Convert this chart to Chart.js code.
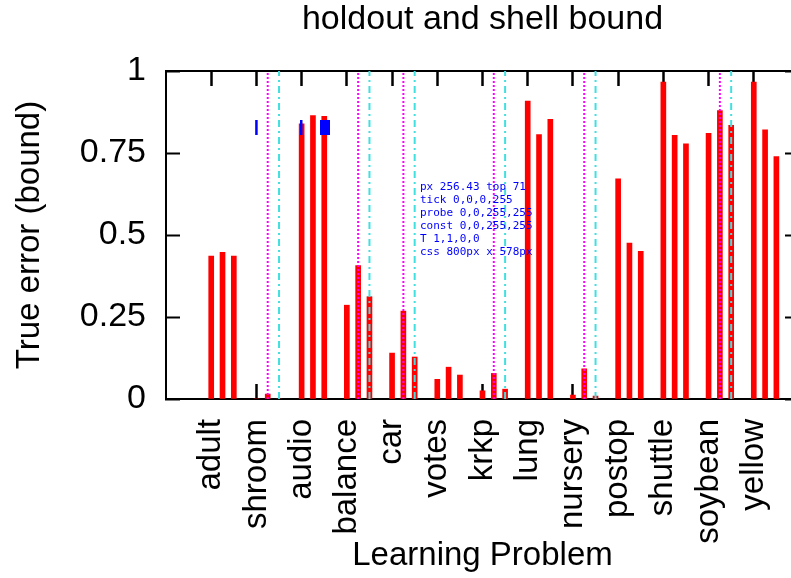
<!DOCTYPE html>
<html>
<head>
<meta charset="utf-8">
<title>holdout and shell bound</title>
<script src="https://cdn.jsdelivr.net/npm/chart.js@4.4.1/dist/chart.umd.min.js"></script>
<style>
  html, body { margin: 0; padding: 0; background: #fff; overflow: hidden; }
  #chart { display: block; }
  #dbg { position: absolute; left: 420px; top: 180px; font: 11px monospace; color: blue; white-space: pre; }
</style>
</head>
<body>
<canvas id="chart" width="800" height="578"></canvas>
<div id="dbg"></div>
<script>
const categories = ['adult', 'shroom', 'audio', 'balance', 'car', 'votes', 'krkp',
  'lung', 'nursery', 'postop', 'shuttle', 'soybean', 'yellow'];
const holdoutBound = [0.436, 0.000, 0.839, 0.286, 0.140, 0.060, 0.025, 0.908, 0.012, 0.671, 0.966, 0.810, 0.966];
const shellBound = [0.447, 0.015, 0.864, 0.407, 0.268, 0.097, 0.078, 0.806, 0.092, 0.475, 0.804, 0.879, 0.821];
const combinedBound = [0.436, 0.000, 0.862, 0.312, 0.128, 0.073, 0.030, 0.853, 0.009, 0.450, 0.778, 0.834, 0.739];
const shellMarks = ['shroom', 'balance', 'car', 'krkp', 'nursery', 'soybean'];
const combinedMarks = ['shroom', 'balance', 'car', 'krkp', 'nursery', 'soybean'];
const yTicks = [0, 0.25, 0.5, 0.75, 1];
const SLOT = [0, 0.25, 0.5];
function barPoints(values, k) { return values.map((v, i) => ({ x: i + SLOT[k], y: v })); }
function markPoints(names, k) {
  const pts = [];
  names.forEach(name => {
    const x = categories.indexOf(name) + SLOT[k];
    pts.push({ x: x, y: yTicks[0] }, { x: x, y: yTicks[yTicks.length - 1] }, { x: x, y: null });
  });
  return pts;
}
function inwardGrid(len, width) {
  return { display: true, drawOnChartArea: false, drawTicks: true, offset: false,
    tickLength: -len, tickWidth: width, tickColor: '#000' };
}
const frameBorder = { display: true, color: '#000', width: 2 };
const categoryTicks = s => { s.ticks = categories.map((c, i) => ({ value: i })); };
const valueTicks = s => { s.ticks = yTicks.map(v => ({ value: v })); };

const probe = {
  id: 'probe',
  afterDraw(chart) {
    const { ctx, chartArea: a, scales } = chart;
    const px = scales.x.getPixelForValue(1);
    ctx.save();
    ctx.fillStyle = 'blue';
    ctx.fillRect(px - 1.25, 120, 2.5, 15);
    ctx.fillRect(300, 120, 2.5, 15);
    ctx.fillRect(320, 120, 10, 15);
    ctx.restore();
    const d1 = ctx.getImageData(Math.round(px), Math.round(a.top + 8), 1, 1).data;
    const d2 = ctx.getImageData(Math.round(px), 127, 1, 1).data;
    const d3 = ctx.getImageData(301, 127, 1, 1).data;
    const t = ctx.getTransform();
    document.getElementById('dbg').textContent = 'px ' + px.toFixed(2) + ' top ' + a.top +
      '\ntick ' + Array.from(d1).join(',') + '\nprobe ' + Array.from(d2).join(',') +
      '\nconst ' + Array.from(d3).join(',') + '\nT ' + [t.a, t.d, t.e, t.f].join(',') +
      '\ncss ' + chart.canvas.style.width + ' x ' + chart.canvas.style.height;
  }
};

Chart.defaults.font.family = "'Liberation Sans', Arial, sans-serif";
Chart.defaults.color = '#000';
const barStyle = { type: 'bar', backgroundColor: '#ff0000', borderWidth: 0, barThickness: 5, grouped: false, order: 2 };

new Chart(document.getElementById('chart'), {
  type: 'bar',
  data: {
    datasets: [
      { ...barStyle, label: 'holdout', data: barPoints(holdoutBound, 0) },
      { ...barStyle, label: 'shell', data: barPoints(shellBound, 1) },
      { ...barStyle, label: 'combined', data: barPoints(combinedBound, 2) },
      { type: 'line', label: 'shell mark', data: markPoints(shellMarks, 1),
        borderColor: '#ff00ff', borderWidth: 2, borderDash: [2, 2], pointRadius: 0, spanGaps: false, fill: false, order: 1 },
      { type: 'line', label: 'combined mark', data: markPoints(combinedMarks, 2),
        borderColor: '#40e0e0', borderWidth: 2, borderDash: [7, 4, 2, 4], pointRadius: 0, spanGaps: false, fill: false, order: 1 }
    ]
  },
  options: {
    responsive: false, animation: false, devicePixelRatio: 1,
    layout: { autoPadding: false, padding: 0 },
    plugins: { legend: { display: false }, tooltip: { enabled: false } },
    scales: {
      x: { type: 'linear', position: 'bottom', min: -1, max: 13, offset: false,
        grid: inwardGrid(15, 2.5), border: frameBorder, afterBuildTicks: categoryTicks,
        ticks: { autoSkip: false, minRotation: 90, maxRotation: 90, padding: 35, font: { size: 33 }, callback: v => categories[v] },
        title: { display: true, text: 'Learning Problem', font: { size: 33, lineHeight: 1 }, padding: { top: 0, bottom: 6 } },
        afterFit: s => { s.height = 179; s.paddingLeft = 0; s.paddingRight = 0; } },
      x2: { type: 'linear', position: 'top', min: -1, max: 13, offset: false,
        grid: inwardGrid(15, 2.5), border: frameBorder, afterBuildTicks: categoryTicks, ticks: { display: false },
        title: { display: true, text: 'holdout and shell bound', font: { size: 34, lineHeight: 1 }, padding: { top: 3, bottom: 0 } },
        afterFit: s => { s.height = 71; s.paddingLeft = 0; s.paddingRight = 0; } },
      y: { type: 'linear', position: 'left', min: 0, max: 1,
        grid: inwardGrid(14, 2), border: frameBorder, afterBuildTicks: valueTicks,
        ticks: { padding: 34, font: { size: 34 }, callback: v => String(v) },
        title: { display: true, text: 'True error (bound)', font: { size: 33, lineHeight: 1 }, padding: { top: 13, bottom: 0 } },
        afterFit: s => { s.width = 166; s.paddingTop = 0; s.paddingBottom = 0; } },
      y2: { type: 'linear', position: 'right', min: 0, max: 1,
        grid: inwardGrid(14, 2), border: frameBorder, afterBuildTicks: valueTicks, ticks: { display: false },
        afterFit: s => { s.width = 1; s.paddingTop = 0; s.paddingBottom = 0; } }
    }
  },
  plugins: [probe]
});
</script>
</body>
</html>
